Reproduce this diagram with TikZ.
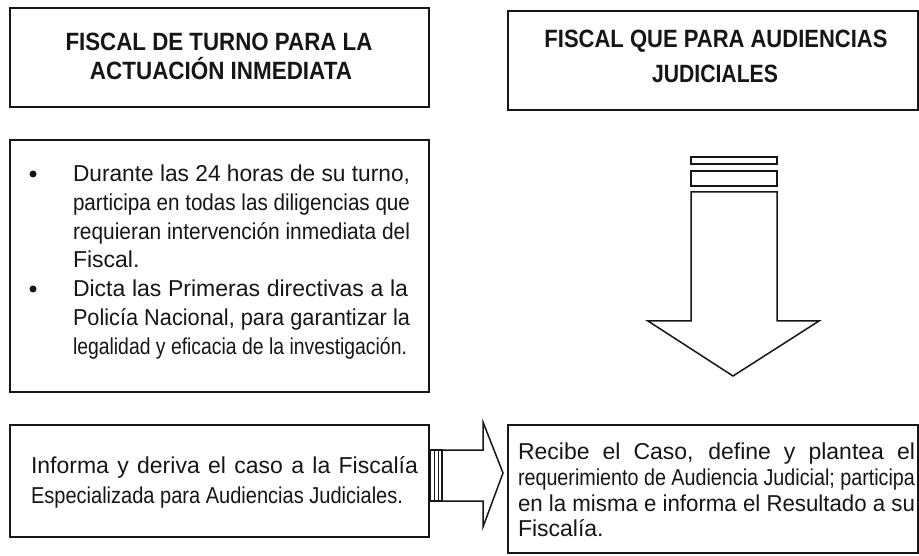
\documentclass[tikz,border=0pt]{standalone}
\usepackage{fontspec}
\setmainfont{Liberation Sans}
\usepackage{graphicx}
\newsavebox\jlbox
\newcommand\jline[2]{\sbox\jlbox{#2}\ifdim\wd\jlbox>#1\relax\resizebox{#1}{\height}{\usebox\jlbox}\else\makebox[#1][s]{#2}\fi}
\newcommand\fitw[2]{\resizebox{#1}{\height}{#2}}
\definecolor{ink}{HTML}{161616}
\begin{document}
\begin{tikzpicture}[x=1pt,y=-1pt,
  boxst/.style={draw=ink, line width=2.2pt, inner sep=0pt, outer sep=0pt, anchor=north west},
  arrst/.style={draw=ink, line width=1.5pt, line join=miter},
  txt/.style={anchor=base west, inner sep=0pt, outer sep=0pt, text=ink, font=\fontsize{23}{27}\selectfont},
  ttl/.style={anchor=base, inner sep=0pt, outer sep=0pt, text=ink, font=\fontsize{25}{29}\selectfont\bfseries}]
\useasboundingbox (0,0) rectangle (919,556);
\fill[white] (0,0) rectangle (919,556);
% boxes
\node[boxst, minimum width=419pt, minimum height=99pt] (b1) at (10,8) {};
\node[boxst, minimum width=410pt, minimum height=99pt] (b2) at (508,11) {};
\node[boxst, minimum width=419pt, minimum height=252pt] (b3) at (10,140) {};
\node[boxst, minimum width=419pt, minimum height=112pt] (b4) at (10,425) {};
\node[boxst, minimum width=410pt, minimum height=128pt] (b5) at (508,425) {};
% titles
\node[ttl] (t1a) at (219,51) {\fitw{307pt}{FISCAL DE TURNO PARA LA}};
\node[ttl] (t1b) at (221,80) {\fitw{262pt}{ACTUACIÓN INMEDIATA}};
\node[ttl] (t2a) at (716,48) {\fitw{343pt}{FISCAL QUE PARA AUDIENCIAS}};
\node[ttl] (t2b) at (715,83) {\fitw{126pt}{JUDICIALES}};
% bullets box
\fill[ink] (33,174) circle (3.5pt);
\fill[ink] (33,289) circle (3.5pt);
\node[txt] (l1) at (73,182) {\jline{337pt}{Durante las 24 horas de su turno,}};
\node[txt] (l2) at (73,211) {\jline{337pt}{participa en todas las diligencias que}};
\node[txt] (l3) at (73,240) {\jline{337pt}{requieran intervención inmediata del}};
\node[txt] (l4) at (73,268) {Fiscal.};
\node[txt] (l5) at (73,297) {\jline{335pt}{Dicta las Primeras directivas a la}};
\node[txt] (l6) at (73,326) {\jline{337pt}{Policía Nacional, para garantizar la}};
\node[txt] (l7) at (73,354) {\jline{334pt}{legalidad y eficacia de la investigación.}};
% box 4 text
\node[txt] (m1) at (31,473) {\jline{387pt}{Informa y deriva el caso a la Fiscalía}};
\node[txt] (m2) at (31,503) {\jline{372pt}{Especializada para Audiencias Judiciales.}};
% box 5 text
\node[txt] (r1) at (518,459) {\jline{397pt}{Recibe el Caso, define y plantea el}};
\node[txt] (r2) at (518,485) {\jline{397pt}{requerimiento de Audiencia Judicial; participa}};
\node[txt] (r3) at (518,511) {\jline{397pt}{en la misma e informa el Resultado a su}};
\node[txt] (r4) at (518,536) {Fiscalía.};
% down arrow
\draw[arrst] (691,157) rectangle (777,164);
\draw[arrst] (691,171) rectangle (777,186);
\draw[arrst] (691,192) -- (691,321) -- (648,321) -- (733,376) -- (819,321) -- (777,321) -- (777,192) -- cycle;
% right arrow
\draw[arrst] (430,450) rectangle (442,501);
\draw[ink, line width=1pt] (434,450) -- (434,501);
\draw[ink, line width=1pt] (438,450) -- (438,501);
\draw[arrst] (442,450) -- (483,450) -- (483,422) -- (503,473) -- (483,527) -- (483,501) -- (442,501);
\end{tikzpicture}
\end{document}
